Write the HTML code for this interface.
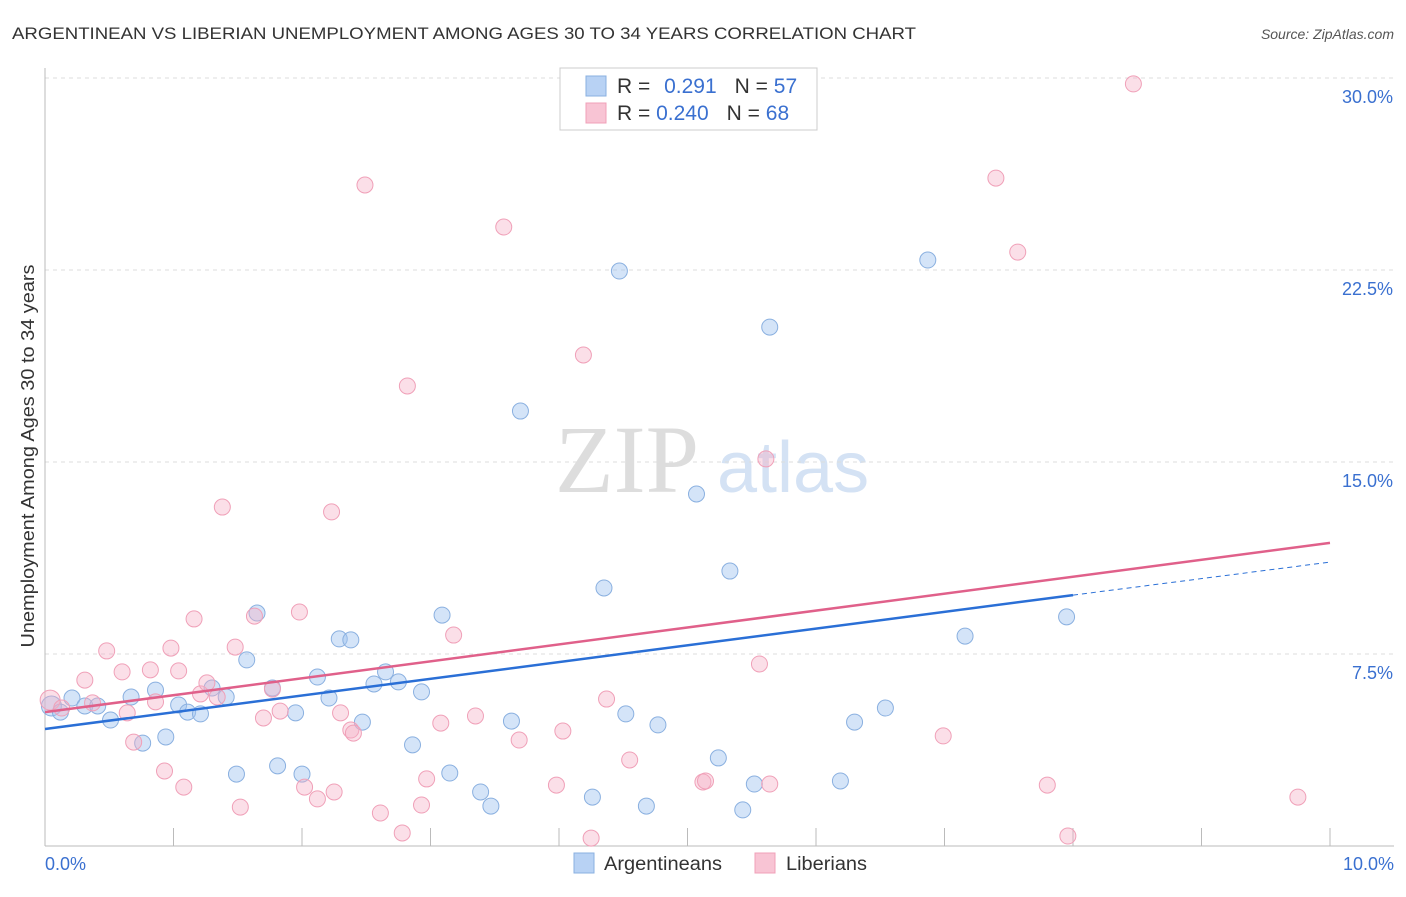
<!DOCTYPE html>
<html><head><meta charset="utf-8"><style>
body{margin:0;background:#fff;font-family:"Liberation Sans",sans-serif;}
</style></head><body>
<svg id="chart" width="1406" height="892" xmlns="http://www.w3.org/2000/svg" font-family="Liberation Sans, sans-serif">
<text x="12" y="39" font-size="17" fill="#333" textLength="904" lengthAdjust="spacingAndGlyphs">ARGENTINEAN VS LIBERIAN UNEMPLOYMENT AMONG AGES 30 TO 34 YEARS CORRELATION CHART</text>
<text x="1394" y="39" font-size="14" fill="#555" font-style="italic" text-anchor="end">Source: ZipAtlas.com</text>
<text x="555" y="492" font-size="96" fill="#ddd" font-family="Liberation Serif, serif">ZIP</text>
<text x="717" y="492" font-size="72" fill="#d4e2f4">atlas</text>
<text transform="translate(34,456) rotate(-90)" font-size="18" fill="#333" text-anchor="middle" textLength="383" lengthAdjust="spacingAndGlyphs">Unemployment Among Ages 30 to 34 years</text>
<g id="grid"></g><g id="marks"></g>
<g>
<rect x="560" y="68" width="257" height="62" fill="#fff" stroke="#ccc"/>
<rect x="586" y="76" width="20" height="20" fill="#b8d2f4" stroke="#8ab0e0"/>
<rect x="586" y="103" width="20" height="20" fill="#f8c4d4" stroke="#f0a0b8"/>
<text x="617" y="93" font-size="21" fill="#333">R = <tspan fill="#3a70d0" dx="8">0.291</tspan><tspan dx="18">N = </tspan><tspan fill="#3a70d0">57</tspan></text>
<text x="617" y="120" font-size="21" fill="#333">R = <tspan fill="#3a70d0">0.240</tspan><tspan dx="18">N = </tspan><tspan fill="#3a70d0">68</tspan></text>
</g>
<g>
<rect x="574" y="853" width="20" height="20" fill="#b8d2f4" stroke="#8ab0e0"/>
<text x="604" y="870" font-size="19" fill="#333" textLength="118" lengthAdjust="spacingAndGlyphs">Argentineans</text>
<rect x="755" y="853" width="20" height="20" fill="#f8c4d4" stroke="#f0a0b8"/>
<text x="786" y="870" font-size="19" fill="#333" textLength="81" lengthAdjust="spacingAndGlyphs">Liberians</text>
</g>
<text x="45" y="870" font-size="18" fill="#3a70d0">0.0%</text>
<text x="1394" y="870" font-size="18" fill="#3a70d0" text-anchor="end">10.0%</text>
</svg>
<script>
const yTicks=[7.5,15,22.5,30];
const yTickLabels=["7.5%","15.0%","22.5%","30.0%"];
const xTicks=[0,1,2,3,4,5,6,7,8,9,10];
const blueX=[0.05,0.12,0.21,0.31,0.41,0.51,0.67,0.76,0.86,0.94,1.04,1.11,1.21,1.30,1.41,1.49,1.57,1.65,1.77,1.81,1.95,2.00,2.12,2.21,2.29,2.38,2.47,2.56,2.65,2.75,2.86,2.93,3.09,3.15,3.39,3.47,3.63,3.70,4.26,4.35,4.47,4.52,4.68,4.77,5.07,5.24,5.33,5.43,5.52,5.64,6.19,6.30,6.54,6.87,7.16,7.95];
const blueY=[5.47,5.23,5.78,5.47,5.47,4.92,5.82,4.02,6.09,4.26,5.51,5.23,5.16,6.17,5.82,2.81,7.27,9.10,6.17,3.13,5.20,2.81,6.60,5.78,8.09,8.05,4.84,6.33,6.80,6.41,3.95,6.02,9.02,2.85,2.11,1.56,4.88,16.99,1.91,10.08,22.46,5.16,1.56,4.73,13.75,3.44,10.74,1.41,2.42,20.27,2.54,4.84,5.39,22.89,8.20,8.95];
const pinkX=[0.04,0.13,0.31,0.37,0.48,0.60,0.64,0.69,0.82,0.86,0.93,0.98,1.04,1.08,1.16,1.21,1.26,1.34,1.38,1.48,1.52,1.63,1.70,1.77,1.83,1.98,2.02,2.12,2.23,2.25,2.30,2.38,2.40,2.49,2.61,2.78,2.82,2.93,2.97,3.08,3.18,3.35,3.57,3.69,3.98,4.03,4.19,4.25,4.37,4.55,5.12,5.14,5.56,5.61,5.64,6.99,7.40,7.57,7.80,7.96,8.47,9.75];
const pinkY=[5.70,5.39,6.48,5.59,7.62,6.80,5.20,4.06,6.88,5.63,2.93,7.73,6.84,2.30,8.87,5.94,6.37,5.82,13.24,7.77,1.52,8.98,5.00,6.13,5.27,9.14,2.30,1.84,13.05,2.11,5.20,4.53,4.41,25.82,1.29,0.51,17.97,1.60,2.62,4.80,8.24,5.08,24.18,4.14,2.38,4.49,19.18,0.31,5.74,3.36,2.50,2.54,7.11,15.12,2.42,4.30,26.09,23.20,2.38,0.39,29.77,1.91];
const blueTrend=[4.57,9.80,11.09]; // at x=0, 8, 10
const pinkTrend=[5.23,11.84];      // at x=0, 10
const NS="http://www.w3.org/2000/svg";
const X=v=>45+v*128.5, Y=v=>846-v*25.6;
function mk(t,a,p){const e=document.createElementNS(NS,t);for(const k in a)e.setAttribute(k,a[k]);p.appendChild(e);return e;}
const grid=document.getElementById('grid'),marks=document.getElementById('marks');
yTicks.forEach((t,i)=>{
 const l=mk('line',{x1:45,x2:1394,y1:Y(t),y2:Y(t),stroke:'#ddd','stroke-dasharray':'4,4'},grid);
 
 
 const tx=mk('text',{x:1393,y:Y(t)+25,'font-size':18,fill:'#3a70d0','text-anchor':'end'},grid);
 tx.textContent=yTickLabels[i];
 
 
});
const ax=mk('line',{x1:45,x2:45,y1:68,y2:846,stroke:'#bbb'},grid);


const bx=mk('line',{x1:45,x2:1394,y1:846,y2:846,stroke:'#bbb'},grid);


xTicks.forEach(t=>{
 const l=mk('line',{x1:X(t),x2:X(t),y1:828,y2:846,stroke:'#bbb'},grid);
 
 
});
function pts(xs,ys,fill,stroke,name){
 xs.forEach((x,i)=>{const c=mk('circle',{cx:X(x),cy:Y(ys[i]),r:i==0?10:8,fill:fill,stroke:stroke,'stroke-width':1},marks);
 
 });
}
pts(blueX,blueY,'rgba(160,196,240,0.45)','#8ab0e0','argentinean-point');
pts(pinkX,pinkY,'rgba(245,175,198,0.4)','#f0a0b8','liberian-point');
let l=mk('line',{x1:X(0),y1:Y(blueTrend[0]),x2:X(8),y2:Y(blueTrend[1]),stroke:'#2a6fd6','stroke-width':2.5},marks);


l=mk('line',{x1:X(8),y1:Y(blueTrend[1]),x2:X(10),y2:Y(blueTrend[2]),stroke:'#2a6fd6','stroke-width':1,'stroke-dasharray':'5,4'},marks);


l=mk('line',{x1:X(0),y1:Y(pinkTrend[0]),x2:X(10),y2:Y(pinkTrend[1]),stroke:'#e0608a','stroke-width':2.5},marks);


</script>
</body></html>
